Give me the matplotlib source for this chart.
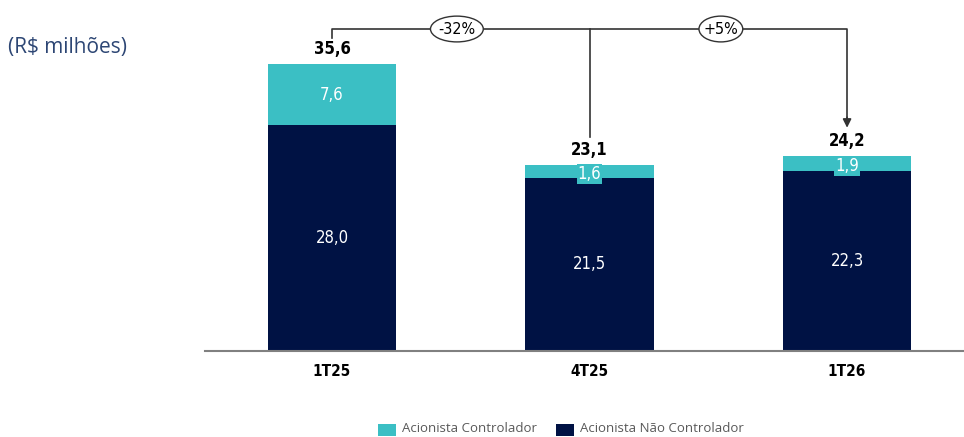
import numpy as np
import matplotlib
matplotlib.use('Agg')
import matplotlib.pyplot as plt
from matplotlib.patches import Ellipse, Rectangle

# data
periods = ['1T25', '4T25', '1T26']
nao_controlador = [28.0, 21.5, 22.3]
controlador = [7.6, 1.6, 1.9]
totais = [35.6, 23.1, 24.2]
variacoes = ['-32%', '+5%']

teal = '#3bbfc4'
navy = '#001244'
font = 'DejaVu Sans'
cond = dict(family=font, stretch='condensed')

fig = plt.figure(figsize=(9.64, 4.37), dpi=100)
ax = fig.add_axes([205/964, 86/437, 759/964, 351/437])

x = np.arange(len(periods))
w = 0.5
ax.bar(x, nao_controlador, w, color=navy, label='Acionista Não Controlador')
ax.bar(x, controlador, w, bottom=nao_controlador, color=teal, label='Acionista Controlador')

ax.set_xlim(-0.493, 2.454)
ax.set_ylim(0, 43.55)

# values inside the bars
for i in range(len(periods)):
    ax.text(x[i], nao_controlador[i] / 2, f'{nao_controlador[i]:.1f}'.replace('.', ','),
            ha='center', va='center', color='white', fontsize=12, **cond)
    yc = nao_controlador[i] + controlador[i] / 2
    if controlador[i] < 3:
        ax.text(x[i], yc - 0.35, f'{controlador[i]:.1f}'.replace('.', ','),
                ha='center', va='center', color='white', fontsize=12, **cond,
                bbox=dict(boxstyle='square,pad=0.05', fc=teal, ec='none'))
    else:
        ax.text(x[i], yc, f'{controlador[i]:.1f}'.replace('.', ','),
                ha='center', va='center', color='white', fontsize=12, **cond)
    ax.text(x[i], totais[i] + 0.7, f'{totais[i]:.1f}'.replace('.', ','),
            ha='center', va='bottom', color='black', fontsize=12, **cond,
            fontweight='semibold')

# bracket with variations
yb = 39.95
lc = '#333333'
ax.plot([x[0], x[0], x[2], x[2]], [totais[0] + 3.2, yb, yb, totais[2] + 4.6],
        color=lc, lw=1.2, zorder=3)
ax.plot([x[1], x[1]], [yb, totais[1] + 3.5], color=lc, lw=1.2, zorder=3)
ax.annotate('', xy=(x[2], totais[2] + 3.5), xytext=(x[2], totais[2] + 4.8),
            arrowprops=dict(arrowstyle='-|>,head_width=0.25,head_length=0.5',
                            color=lc, lw=1.2, shrinkA=0, shrinkB=0))
for xm, lab, ew in [(0.485, variacoes[0], 0.205), (1.51, variacoes[1], 0.17)]:
    ax.add_patch(Ellipse((xm, yb), ew, 3.2, fc='white', ec=lc, lw=1.0, zorder=4))
    ax.text(xm, yb, lab, ha='center', va='center', fontsize=11.5, **cond,
            color='black', zorder=5)

# axes styling
for s in ['top', 'right', 'left']:
    ax.spines[s].set_visible(False)
ax.spines['bottom'].set_color('#808080')
ax.spines['bottom'].set_linewidth(1.5)
ax.set_yticks([])
ax.set_xticks(x)
ax.set_xticklabels(periods, fontsize=11, fontweight='semibold', **cond)
ax.tick_params(axis='x', length=0, pad=9)

fig.text(8/964, 1 - 47/437, '(R$ milhões)', fontsize=15, color='#2d4674',
         family='Open Sans', va='center', ha='left')

# legend
fig.patches.append(Rectangle((378/964, 1 - 436/437), 18/964, 12/437,
                             transform=fig.transFigure, fc=teal, ec='none'))
fig.text(402/964, 1 - 429/437, 'Acionista Controlador', fontsize=9.5,
         color='#595959', family='Open Sans', va='center')
fig.patches.append(Rectangle((556/964, 1 - 436/437), 18/964, 12/437,
                             transform=fig.transFigure, fc=navy, ec='none'))
fig.text(580/964, 1 - 429/437, 'Acionista Não Controlador', fontsize=9.5,
         color='#595959', family='Open Sans', va='center')

fig.savefig('out.png', dpi=100)
